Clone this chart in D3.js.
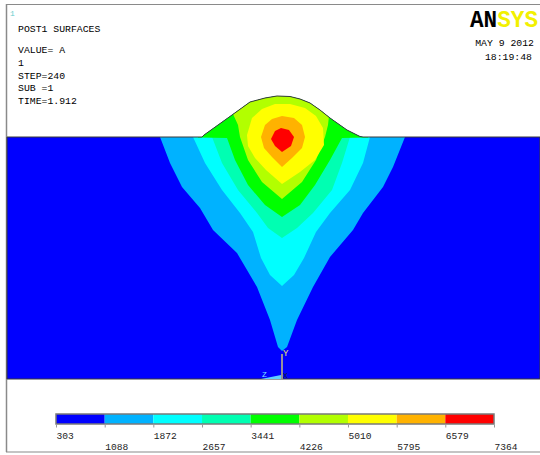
<!DOCTYPE html>
<html>
<head>
<meta charset="utf-8">
<script src="https://cdn.jsdelivr.net/npm/d3@7"></script>
<style>
  body { margin: 0; background: #fff; }
  svg text { font-family: "Liberation Mono", "DejaVu Sans Mono", monospace; }
</style>
</head>
<body>
<div id="chart"></div>
<script>
// contour levels of the nodal solution (band edges)
const levels = [303, 1088, 1872, 2657, 3441, 4226, 5010, 5795, 6579, 7364];
const bandColors = ["#0000ff", "#00b2ff", "#00ffff", "#00ffb2", "#00ff00", "#b2ff00", "#ffff00", "#ffb200", "#ff0000"];

// geometry in model units (origin = bottom of the weld root)
const plateX = [-27.5, 25.8];
const plateY = [0, 24.2];
const bead = [[-8.0, 24.2], [-7.8, 24.4], [-6.4, 25.4], [-5.0, 26.4], [-3.2, 27.7], [-1.7, 28.1], [-0.5, 28.3],
  [0.8, 28.25], [1.8, 28.0], [2.8, 27.6], [3.8, 26.9], [4.8, 26.1], [6.5, 24.9], [7.8, 24.25], [8.1, 24.2]];

// iso-lines, each one closes the region above its level
const iso1088 = [[-12.2, 31], [-12.2, 24.2], [-11.2, 21.6], [-10.0, 19.2], [-8.2, 17.1], [-6.9, 14.9], [-4.5, 12.6],
  [-2.5, 9.2], [-1.2, 5.9], [-0.4, 3.2], [0, 2.8], [0.5, 3.2], [1.5, 5.9], [3.1, 9.2], [4.8, 12.2], [7.1, 14.9],
  [8.1, 16.6], [10.1, 19.2], [11.1, 21.2], [12.3, 24.2], [12.3, 31]];
const iso1872 = [[-8.9, 31], [-8.9, 24.2], [-7.7, 21.6], [-6.0, 18.9], [-4.2, 16.6], [-2.9, 14.7], [-2.1, 12.1],
  [-1.2, 10.4], [0, 9.3], [1.2, 10.4], [2.2, 12.1], [3.4, 14.7], [4.8, 16.6], [6.8, 18.9], [8.1, 21.6],
  [8.8, 24.2], [8.8, 31]];
const iso2657 = [[-7.0, 31], [-7.0, 24.2], [-6.0, 21.6], [-4.4, 18.9], [-2.5, 16.6], [-1.4, 15.1], [0, 14.1],
  [1.5, 15.1], [3.1, 16.6], [5.0, 18.9], [6.0, 21.6], [6.8, 24.2], [6.8, 31]];
const iso3441 = [[-9.2, 28.9], [-8.4, 24.15], [-5.5, 24.1], [-4.7, 21.9], [-3.4, 19.4], [-1.7, 17.4], [0, 16.2],
  [1.8, 17.4], [3.3, 19.4], [4.8, 21.9], [6.0, 24.1], [8.6, 24.15], [9.3, 28.9]];
const iso4226 = [[-6.7, 28.9], [-4.9, 26.5], [-4.4, 25.4], [-4.2, 24.2], [-3.4, 21.9], [-2.0, 19.7], [0, 18.0],
  [2.0, 19.7], [3.4, 21.9], [4.3, 24.2], [4.6, 25.4], [4.7, 26.3], [6.3, 28.9]];
const iso5010 = [[-3.5, 24.4], [-3.0, 26.1], [-2.0, 27.0], [-0.7, 27.5], [0.8, 27.5], [2.3, 27.1], [3.4, 26.3],
  [4.1, 25.1], [4.2, 23.4], [3.3, 21.9], [1.8, 20.7], [0, 19.5], [-1.6, 20.9], [-2.7, 22.1], [-3.4, 23.3]];
const iso5795 = [[-2.1, 24.2], [-1.7, 25.4], [-1.0, 26.0], [0, 26.3], [1.2, 26.1], [2.0, 25.4], [2.3, 24.2],
  [2.0, 23.1], [1.0, 22.1], [0, 21.2], [-1.0, 22.2], [-1.8, 23.1]];
const iso6579 = [[-1.1, 24.0], [-0.7, 24.8], [-0.1, 25.1], [0.7, 24.9], [1.2, 24.2], [0.9, 23.3], [0, 22.7], [-0.7, 23.3]];

const isoLines = [iso1088, iso1872, iso2657, iso3441, iso4226, iso5010, iso5795, iso6579];

const infoLines = ["POST1 SURFACES", "VALUE= A", "1", "STEP=240", "SUB =1", "TIME=1.912"];
const dateLines = ["MAY  9 2012", "18:19:48"];

const W = 540, H = 455;
const svg = d3.select("#chart").append("svg").attr("width", W).attr("height", H);

// window frame
svg.append("line").attr("x1", 6.5).attr("x2", 6.5).attr("y1", 4).attr("y2", 452).attr("stroke", "#8a8a8a").attr("stroke-width", 1.5);
svg.append("line").attr("x1", 6).attr("x2", W).attr("y1", 4.5).attr("y2", 4.5).attr("stroke", "#8a8a8a").attr("stroke-width", 1.2);
svg.append("line").attr("x1", 6).attr("x2", W).attr("y1", 452).attr("y2", 452).attr("stroke", "#8a8a8a").attr("stroke-width", 1.2);

const x = d3.scaleLinear().domain(plateX).range([7, 540]);
const y = d3.scaleLinear().domain(plateY).range([379, 137]);
const color = d3.scaleThreshold().domain(levels.slice(1, -1)).range(bandColors);

const body = [[plateX[0], plateY[0]], [plateX[1], plateY[0]], [plateX[1], plateY[1]]]
  .concat(bead.slice().reverse())
  .concat([[plateX[0], plateY[1]]]);

const line = d3.line().x(d => x(d[0])).y(d => y(d[1])).curve(d3.curveLinearClosed);

svg.append("clipPath").attr("id", "body-clip")
  .append("path").attr("d", line(body));

const model = svg.append("g").attr("clip-path", "url(#body-clip)");
model.append("path").attr("d", line(body)).attr("fill", color(levels[0]));
model.selectAll("path.band")
  .data(isoLines)
  .enter()
  .append("path")
    .attr("class", "band")
    .attr("d", d => line(d))
    .attr("fill", (d, i) => color(levels[i + 1]));

// body outline
svg.append("path")
  .attr("d", line(body))
  .attr("fill", "none")
  .attr("stroke", "#3a3a3a")
  .attr("stroke-width", 1);

// global triad
const ox = x(0), oy = y(0);
svg.append("path")
  .attr("d", `M${ox - 21},${oy} L${ox - 1},${oy - 4} L${ox - 1},${oy} Z`)
  .attr("fill", "#5fd0ff");
svg.append("line").attr("x1", ox).attr("x2", ox).attr("y1", oy).attr("y2", oy - 25)
  .attr("stroke", "#c9c27a").attr("stroke-width", 1.5);
svg.append("text").attr("x", ox + 1).attr("y", oy - 23).attr("font-size", 9).attr("fill", "#e8e070").text("Y");
svg.append("text").attr("x", ox - 20).attr("y", oy - 2).attr("font-size", 8).attr("fill", "#7fe0ff").text("Z");
svg.append("text").attr("x", ox + 1).attr("y", oy - 1).attr("font-size", 8).attr("fill", "#102040").text("X");

// legend
const lx = d3.scaleLinear().domain([levels[0], levels[levels.length - 1]]).range([56, 494]);
const legend = svg.append("g");
legend.selectAll("rect")
  .data(bandColors)
  .enter()
  .append("rect")
    .attr("x", (d, i) => lx(levels[i]))
    .attr("y", 414)
    .attr("width", (d, i) => lx(levels[i + 1]) - lx(levels[i]))
    .attr("height", 10)
    .attr("fill", d => d);
legend.append("rect")
  .attr("x", lx(levels[0])).attr("y", 414)
  .attr("width", lx(levels[levels.length - 1]) - lx(levels[0])).attr("height", 10)
  .attr("fill", "none").attr("stroke", "#7a7a7a").attr("stroke-width", 1.5);

const axis = d3.axisBottom(lx).tickValues(levels).tickSize(3).tickFormat(d3.format("d"));
const ag = svg.append("g").attr("transform", "translate(0,424.5)").call(axis);
ag.select(".domain").remove();
ag.selectAll(".tick line").attr("stroke", "#999");
ag.selectAll(".tick text")
  .attr("x", 0)
  .attr("y", (d, i) => i % 2 ? 25.5 : 14.5)
  .attr("dy", 0)
  .attr("text-anchor", "start")
  .attr("font-size", 9.6)
  .attr("font-family", "Liberation Mono, monospace")
  .attr("fill", "#222");

// header text
svg.append("text").attr("x", 10).attr("y", 16).attr("font-size", 8).attr("fill", "#66cccc").text("1");
svg.selectAll("text.info")
  .data(infoLines)
  .enter()
  .append("text")
    .attr("class", "info")
    .attr("x", 18)
    .attr("y", (d, i) => i === 0 ? 32 : 53 + (i - 1) * 12.8)
    .attr("font-size", 9.8)
    .attr("font-family", "Liberation Serif, serif")
    .attr("fill", "#000")
    .text(d => d);

svg.selectAll("text.date")
  .data(dateLines)
  .enter()
  .append("text")
    .attr("class", "date")
    .attr("x", (d, i) => i === 0 ? 534 : 532)
    .attr("y", (d, i) => 46 + i * 14)
    .attr("text-anchor", "end")
    .attr("font-size", 9.8)
    .attr("font-family", "Liberation Serif, serif")
    .attr("fill", "#000")
    .text(d => d);

// logo
const logo = svg.append("text")
  .attr("x", 470).attr("y", 27)
  .attr("font-family", "Liberation Sans, Arial, sans-serif")
  .attr("font-weight", "bold")
  .attr("font-size", 23)
  .attr("textLength", 68)
  .attr("lengthAdjust", "spacingAndGlyphs");
logo.append("tspan").attr("fill", "#000").text("AN");
logo.append("tspan").attr("fill", "#f2f000").text("SYS");
</script>
</body>
</html>
